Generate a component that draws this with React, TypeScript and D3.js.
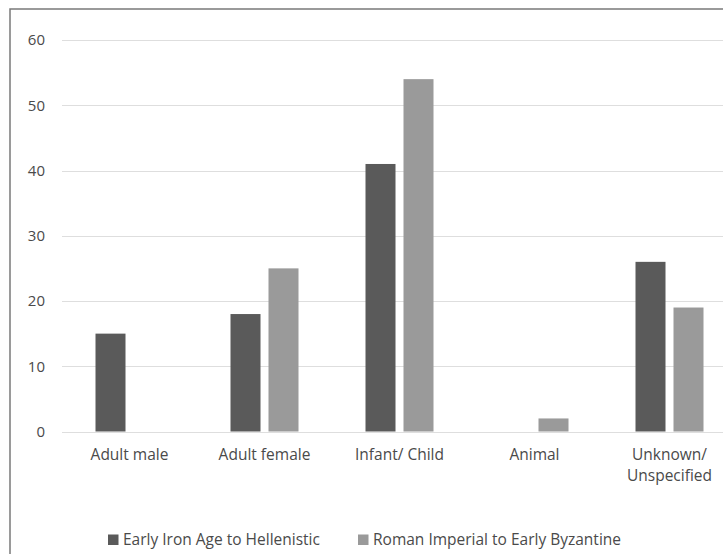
import React from "react";
import * as d3 from "d3";

const categories = ["Adult male", "Adult female", "Infant/ Child", "Animal", "Unknown/\nUnspecified"];
const seriesNames = ["Early Iron Age to Hellenistic", "Roman Imperial to Early Byzantine"];
const earlyIronAge = [15, 18, 41, 0, 26];
const romanImperial = [0, 25, 54, 2, 19];
const yTicks = [0, 10, 20, 30, 40, 50, 60];
const seriesColors = ["#5a5a5a", "#9a9a9a"];

const W = 723;
const H = 554;
const FONT = "'Open Sans', 'Liberation Sans', sans-serif";
const TEXT = "#4a4a4a";

export default function App() {
  const x = d3
    .scaleBand<string>()
    .domain(categories)
    .range([62, 737])
    .paddingInner(67 / 135)
    .paddingOuter(67 / 270);
  const xs = d3
    .scaleBand<string>()
    .domain(seriesNames)
    .range([0, x.bandwidth()])
    .paddingInner(8 / 38)
    .paddingOuter(0);
  const y = d3.scaleLinear().domain([0, 60]).range([431.5, 40]);
  const series = [earlyIronAge, romanImperial];

  return (
    <svg
      width={W}
      height={H}
      style={{ position: "absolute", left: 0, top: 0, background: "#fff" }}
      fontFamily={FONT}
    >
      <rect x={10} y={9} width={W + 10} height={H + 10} fill="#fff" stroke="#7a7a7a" strokeWidth={1.5} />
      {yTicks.map((t) => (
        <g key={t}>
          <line x1={62} x2={737} y1={Math.round(y(t)) + 0.5} y2={Math.round(y(t)) + 0.5} stroke="#dedede" strokeWidth={1} />
          <text x={45} y={y(t)} dy="0.35em" textAnchor="end" fontSize={15} fill={TEXT}>
            {t}
          </text>
        </g>
      ))}
      {categories.map((c, i) => (
        <g key={c}>
          {series.map((vals, s) =>
            vals[i] > 0 ? (
              <rect
                key={s}
                x={(x(c) ?? 0) + (xs(seriesNames[s]) ?? 0)}
                y={y(vals[i])}
                width={xs.bandwidth()}
                height={y(0) - y(vals[i])}
                fill={seriesColors[s]}
              />
            ) : null
          )}
          <text
            x={(x(c) ?? 0) + x.bandwidth() / 2}
            y={460}
            textAnchor="middle"
            fontSize={15.5}
            fill={TEXT}
          >
            {c.split("\n").map((line, k) => (
              <tspan key={k} x={(x(c) ?? 0) + x.bandwidth() / 2} dy={k === 0 ? 0 : 21}>
                {line}
              </tspan>
            ))}
          </text>
        </g>
      ))}
      {seriesNames.map((name, s) => {
        const lx = s === 0 ? 108 : 358;
        return (
          <g key={name}>
            <rect x={lx} y={534.5} width={10.5} height={10.5} fill={seriesColors[s]} />
            <text x={lx + 15} y={545} fontSize={15.5} fill={TEXT}>
              {name}
            </text>
          </g>
        );
      })}
    </svg>
  );
}
